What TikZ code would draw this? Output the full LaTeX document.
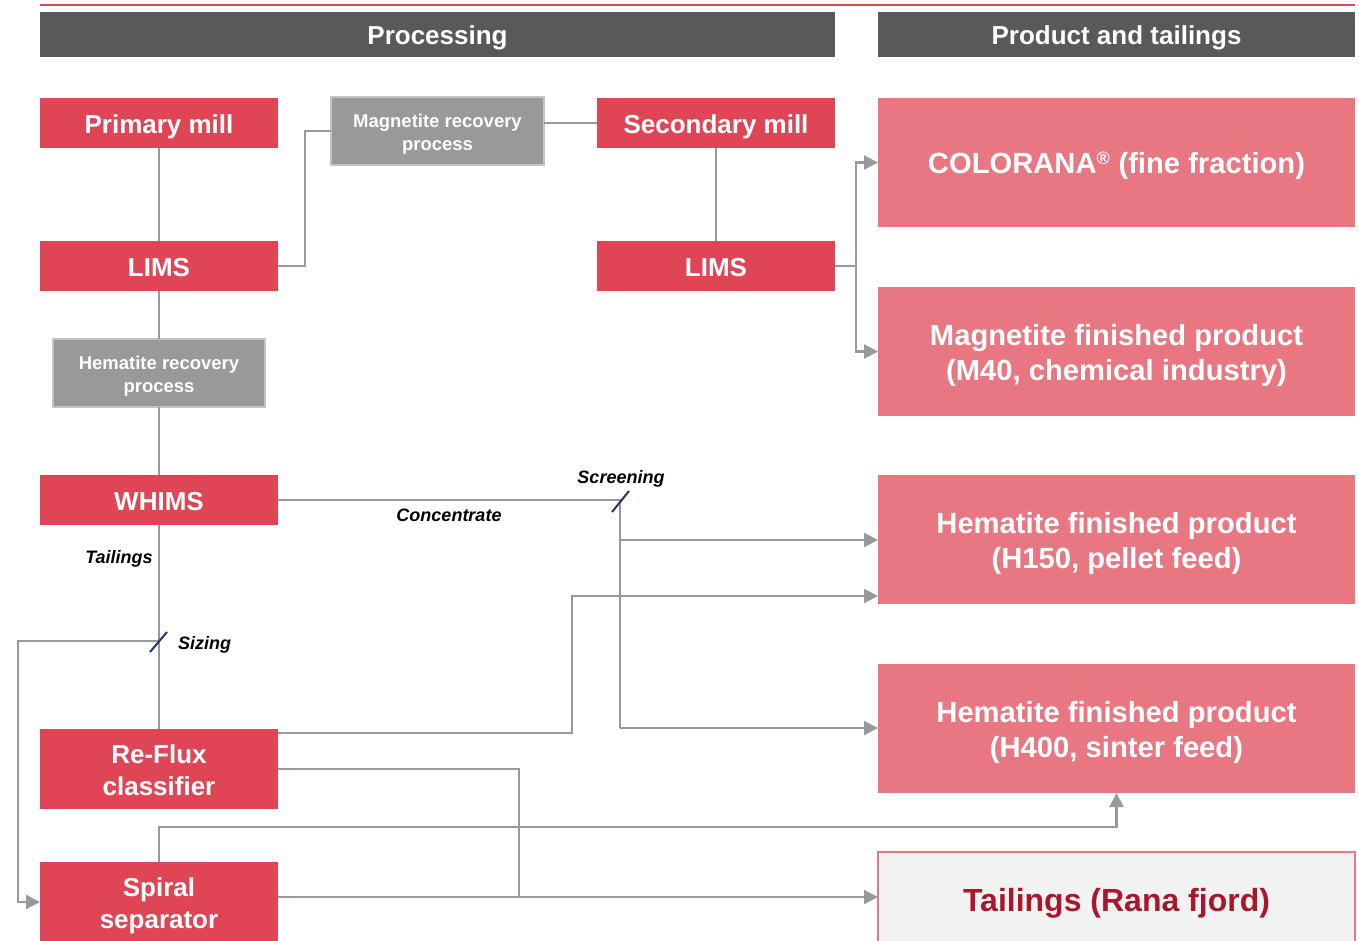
\documentclass[tikz,border=0pt]{standalone}
\usepackage{fontspec}
\setmainfont{Liberation Sans}
\usetikzlibrary{arrows.meta}
\definecolor{boxred}{HTML}{E04555}
\definecolor{boxpink}{HTML}{E87782}
\definecolor{hdrgray}{HTML}{595959}
\definecolor{procgray}{HTML}{999999}
\definecolor{procborder}{HTML}{C4C4C4}
\definecolor{linegray}{HTML}{999999}
\definecolor{tailfill}{HTML}{F2F2F2}
\definecolor{taildark}{HTML}{A8172C}
\definecolor{ticknavy}{HTML}{1F3864}
\newcommand{\fsz}[2]{\fontsize{#1}{#2}\selectfont}
\newcommand{\capstrut}{\rule[-0.24em]{0pt}{\dimexpr1.196em+2pt\relax}}
\newcommand{\topstrut}{\rule{0pt}{\dimexpr0.956em+2pt\relax}}
\newcommand{\botstrut}{\rule[-0.24em]{0pt}{0.24em}}
\newcommand{\ml}[2]{\parbox[c]{#1}{\centering\topstrut#2\botstrut}}
\tikzset{
  base/.style={inner sep=0pt, outer sep=0pt, anchor=north west, align=center, font=\bfseries,
    execute at begin node=\capstrut, execute at end node=\capstrut},
  multi/.style={execute at begin node={}, execute at end node={}},
  hdr/.style={base, fill=hdrgray, text=white, minimum height=45pt, font=\bfseries\fsz{26}{30}},
  redbox/.style={base, fill=boxred, text=white, minimum width=238pt, font=\bfseries\fsz{26}{32}},
  procbox/.style={base, multi, fill=procgray, draw=procborder, line width=1.2pt, text=white, font=\bfseries\fsz{18.5}{23}},
  prodbox/.style={base, fill=boxpink, text=white, minimum width=477pt, minimum height=129pt, font=\bfseries\fsz{29.2}{35.5}},
  conn/.style={draw=linegray, line width=2.2pt},
  arr/.style={conn, -{Triangle[length=14pt,width=14pt]}},
  tickmark/.style={draw=ticknavy, line width=2pt},
  lbl/.style={inner sep=0pt, font=\bfseries\itshape\fsz{18}{20}, text=black,
    execute at begin node=\capstrut, execute at end node=\capstrut}
}
\begin{document}
\begin{tikzpicture}[x=1pt,y=-1pt]
\useasboundingbox (0,0) rectangle (1359,940);
\clip (0,0) rectangle (1359,940);
% top rule
\draw[boxred, line width=2.5pt] (40,5) -- (1355,5);
% headers
\node[hdr, minimum width=795pt] (hp) at (40,12) {Processing};
\node[hdr, minimum width=477pt] (ht) at (878,12) {Product and tailings};
% processing boxes
\node[redbox, minimum height=50pt] (pm) at (40,98) {Primary mill};
\node[procbox, minimum width=213pt, minimum height=68pt] (mrp) at (331,97) {\ml{205pt}{Magnetite recovery\\process}};
\node[redbox, minimum height=50pt] (sm) at (597,98) {Secondary mill};
\node[redbox, minimum height=50pt] (l1) at (40,241) {LIMS};
\node[redbox, minimum height=50pt] (l2) at (597,241) {LIMS};
\node[procbox, minimum width=212pt, minimum height=68pt] (hrp) at (53,339) {\ml{205pt}{Hematite recovery\\process}};
\node[redbox, minimum height=50pt] (wh) at (40,475) {WHIMS};
\node[redbox, multi, minimum height=80pt] (rf) at (40,729) {\ml{230pt}{Re-Flux\\classifier}};
\node[redbox, multi, minimum height=80pt] (sp) at (40,862) {\ml{230pt}{Spiral\\separator}};
% product boxes
\node[prodbox] (col) at (878,98) {COLORANA\textsuperscript{\fsz{18}{20}\textregistered} (fine fraction)};
\node[prodbox, multi] (mfp) at (878,287) {\ml{470pt}{Magnetite finished product\\(M40, chemical industry)}};
\node[prodbox, multi] (h150) at (878,475) {\ml{470pt}{Hematite finished product\\(H150, pellet feed)}};
\node[prodbox, multi] (h400) at (878,664) {\ml{470pt}{Hematite finished product\\(H400, sinter feed)}};
\node[base, fill=tailfill, draw=boxpink, line width=1.5pt, text=taildark, minimum width=477pt, minimum height=94pt, font=\bfseries\fsz{32}{36}] (tl) at (878,852) {Tailings (Rana fjord)};
% connectors
\draw[conn] (pm.south) -- (l1.north);
\draw[conn] (l1.east) -- (305,266) |- (mrp.west);
\draw[conn] (mrp.east |- sm.west) -- (sm.west);
\draw[conn] (sm.south) -- (l2.north);
\draw[conn] (l2.east) -- (856,266);
\draw[arr] (856,266) |- (col.west);
\draw[arr] (856,266) |- (mfp.west);
\draw[conn] (l1.south) -- (hrp.north);
\draw[conn] (hrp.south) -- (wh.north);
\coordinate (scr) at (620,500);
\draw[conn] (wh.east) -- (scr) -- (620,728);
\draw[arr] (620,540) -- (h150.west |- 0,540);
\draw[arr] (620,728) -- (h400.west |- 0,728);
\draw[arr] (rf.east |- 0,733) -- (572,733) -- (572,596) -- (h150.west |- 0,596);
\draw[conn] (wh.south) -- (rf.north);
\coordinate (sz) at (159,641);
\draw[arr] (sz) -- (18,641) |- (sp.west);
\draw[conn] (rf.east) -- (519,769) -- (519,897);
\draw[arr] (sp.east |- 0,897) -- (tl.west |- 0,897);
\draw[arr] (sp.north) -- (159,827) -| (h400.south);
% ticks
\draw[tickmark] (150,652) -- (167,632);
\draw[tickmark] (612,512) -- (629,491);
% labels
\node[lbl] (lscr) at (621,476) {Screening};
\node[lbl] (lcon) at (449,514) {Concentrate};
\node[lbl] (ltai) at (119,556) {Tailings};
\node[lbl, anchor=west] (lsiz) at (178,642) {Sizing};
\end{tikzpicture}
\end{document}
